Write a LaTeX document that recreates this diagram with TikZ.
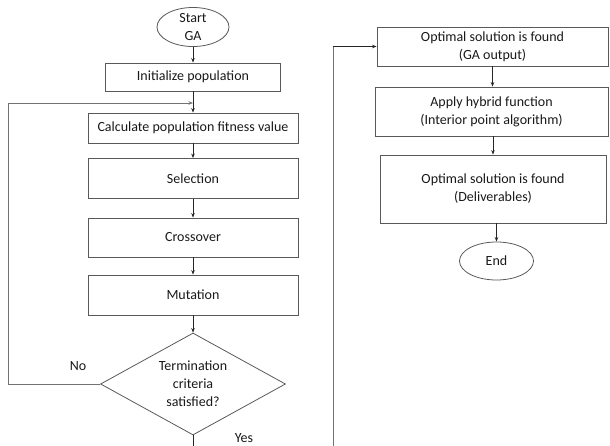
\documentclass[tikz,border=0pt]{standalone}
\usepackage{fontspec}
\setmainfont{Carlito}
\usetikzlibrary{shapes.geometric,arrows.meta}
\begin{document}
\begin{tikzpicture}[x=1pt,y=-1pt,
  font=\fontsize{14}{18}\selectfont,
  every node/.style={text=black!90},
  stepbox/.style={draw=black!65,line width=0.8pt,rectangle,inner sep=0pt,align=center},
  terminal/.style={draw=black!65,line width=0.8pt,ellipse,inner sep=0pt,align=center},
  decision/.style={draw=black!65,line width=0.8pt,diamond,aspect=1.8,inner sep=0pt,align=center},
  flow/.style={draw=black!85,line width=0.7pt,-{Stealth[length=4.5pt,width=3.5pt]}},
  loopline/.style={draw=black!55,line width=0.8pt},
]
\useasboundingbox (0,0) rectangle (610,446);

% left column: the GA loop
\node[terminal,minimum width=72pt,minimum height=39pt] (start) at (193,27) {Start\\GA};
\node[stepbox,minimum width=175pt,minimum height=28pt] (init) at (193,77) {Initialize population};
\node[stepbox,minimum width=210pt,minimum height=30pt] (fit) at (193,128) {Calculate population fitness value};
\node[stepbox,minimum width=210pt,minimum height=40pt] (sel) at (193,178.5) {Selection};
\node[stepbox,minimum width=210pt,minimum height=39pt] (cross) at (193,237.5) {Crossover};
\node[stepbox,minimum width=210pt,minimum height=40pt] (mut) at (193,295) {Mutation};
\node[decision,minimum width=185pt,minimum height=102pt] (cond) at (193,384) {Termination\\criteria\\satisfied?};

% right column: hybrid refinement
\node[stepbox,minimum width=231pt,minimum height=39pt] (gaout) at (492.5,46.5) {Optimal solution is found\\(GA output)};
\node[stepbox,minimum width=233pt,minimum height=49pt] (hybrid) at (491.5,111.5) {Apply hybrid function\\(Interior point algorithm)};
\node[stepbox,minimum width=226pt,minimum height=68pt] (deliv) at (493,189) {Optimal solution is found\\(Deliverables)};
\node[terminal,minimum width=74pt,minimum height=38pt] (end) at (496.5,261) {End};

% labels on the decision branches
\node (no) at (78,366) {No};
\node (yes) at (244,438) {Yes};

% helper points for the long routes
\coordinate (loopx) at (8,103);
\coordinate (loopin) at (193,103);
\coordinate (yesend) at (193,446);
\coordinate (rbot) at (333,446);

% main sequence
\draw[flow] (start) -- (init);
\draw[flow] (init) -- (fit);
\draw[flow] (fit) -- (sel);
\draw[flow] (sel) -- (cross);
\draw[flow] (cross) -- (mut);
\draw[flow] (mut) -- (cond);

% "No" branch back to the fitness evaluation
\draw[loopline] (cond.west) -| (loopx);
\draw[flow,draw=black!55] (loopx) -- (loopin);

% "Yes" branch, continued in the right column
\draw[draw=black!85,line width=0.7pt] (cond.south) -- (yesend);
\draw[loopline] (rbot) -- (rbot |- gaout.west);
\draw[flow] (rbot |- gaout.west) -- (gaout.west);

\draw[flow] ([xshift=1pt]gaout.south -| hybrid.north) -- ([xshift=1pt]hybrid.north);
\draw[flow] ([xshift=1.5pt]hybrid.south) -- ([xshift=1.5pt]hybrid.south |- deliv.north);
\draw[flow] (deliv.south -| end.north) -- (end.north);
\end{tikzpicture}
\end{document}
